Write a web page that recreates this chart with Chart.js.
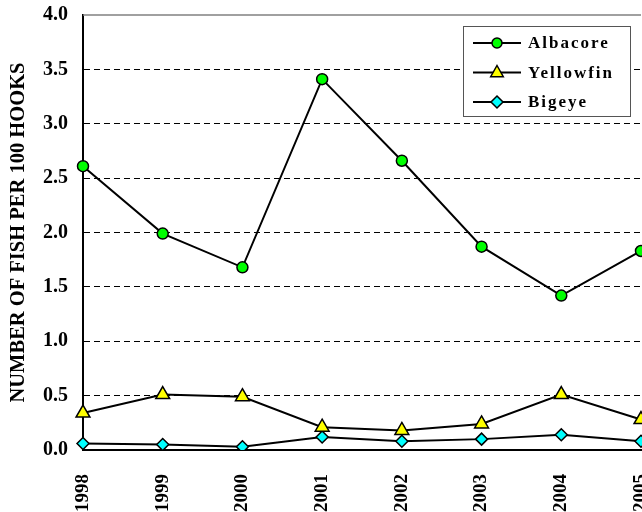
<!DOCTYPE html>
<html>
<head>
<meta charset="utf-8">
<script src="https://cdn.jsdelivr.net/npm/chart.js@4"></script>
<style>
  html, body { margin: 0; padding: 0; background: #fff; overflow: hidden; }
  #wrap { width: 700px; height: 512px; }
</style>
</head>
<body>
<div id="wrap"><canvas id="mycanvas" width="700" height="512"></canvas></div>
<script>
var years = ["1998", "1999", "2000", "2001", "2002", "2003", "2004", "2005"];
var albacore = [2.61, 1.99, 1.68, 3.41, 2.66, 1.87, 1.42, 1.83];
var yellowfin = [0.34, 0.51, 0.49, 0.21, 0.18, 0.24, 0.51, 0.28];
var bigeye = [0.06, 0.05, 0.03, 0.12, 0.08, 0.10, 0.14, 0.08];
var yTitle = "NUMBER OF FISH PER 100 HOOKS";

var serif = "'Liberation Serif', 'Times New Roman', serif";

function drawShape(c, style, r, x, y) {
	if (style === "circle") {
		c.arc(x, y, r, 0, Math.PI * 2);
	} else if (style === "triangle") {
		c.moveTo(x, y - r);
		c.lineTo(x + r * 0.9, y + r * 0.6);
		c.lineTo(x - r * 0.9, y + r * 0.6);
		c.closePath();
	} else {
		c.moveTo(x, y - r);
		c.lineTo(x + r, y);
		c.lineTo(x, y + r);
		c.lineTo(x - r, y);
		c.closePath();
	}
}

// legend box with line + marker, like the original
var boxLegend = {
	id: "boxLegend",
	afterDraw: function(chart) {
		var c = chart.ctx;
		var x0 = 463, y0 = 26, w = 167, h = 90;
		c.save();
		c.fillStyle = "#fff";
		c.fillRect(x0, y0, w, h);
		c.strokeStyle = "#555";
		c.lineWidth = 1;
		c.strokeRect(x0 + 0.5, y0 + 0.5, w, h);
		chart.data.datasets.forEach(function(ds, i) {
			var y = y0 + 17 + i * 29.5;
			c.strokeStyle = "#000";
			c.lineWidth = 2;
			c.beginPath();
			c.moveTo(x0 + 10, y);
			c.lineTo(x0 + 58, y);
			c.stroke();
			c.fillStyle = ds.pointBackgroundColor;
			c.lineWidth = 1.5;
			c.beginPath();
			drawShape(c, ds.pointStyle, ds.legendRadius, x0 + 34, y);
			c.fill();
			c.stroke();
			c.fillStyle = "#000";
			c.font = "bold 17px " + serif;
			if ("letterSpacing" in c) c.letterSpacing = "2px";
			c.textBaseline = "middle";
			c.textAlign = "left";
			c.fillText(ds.label, x0 + 65, y + 1);
			if ("letterSpacing" in c) c.letterSpacing = "0px";
		});
		// top frame line
		var a = chart.chartArea;
		c.strokeStyle = "#808080";
		c.lineWidth = 1.5;
		c.beginPath();
		c.moveTo(a.left, a.top);
		c.lineTo(a.right, a.top);
		c.stroke();
		c.restore();
	}
};

var ctx = document.getElementById("mycanvas");

var chartdata = {
	labels: years,
	datasets: [
		{
			label: "Albacore",
			data: albacore,
			borderColor: "#000",
			borderWidth: 2,
			pointStyle: "circle",
			pointRadius: 5.5,
			legendRadius: 5,
			pointBackgroundColor: "#00FF00",
			pointBorderColor: "#000",
			pointBorderWidth: 1.5
		},
		{
			label: "Yellowfin",
			data: yellowfin,
			borderColor: "#000",
			borderWidth: 2,
			pointStyle: "triangle",
			pointRadius: 8,
			legendRadius: 7,
			pointBackgroundColor: "#FFFF00",
			pointBorderColor: "#000",
			pointBorderWidth: 1.5
		},
		{
			label: "Bigeye",
			data: bigeye,
			borderColor: "#000",
			borderWidth: 2,
			pointStyle: "rectRot",
			pointRadius: 6,
			legendRadius: 6,
			pointBackgroundColor: "#00FFFF",
			pointBorderColor: "#000",
			pointBorderWidth: 1.5
		}
	]
};

var new_chart = new Chart(ctx, {
	type: "line",
	data: chartdata,
	options: {
		responsive: false,
		animation: false,
		layout: { padding: { top: 0, right: 59, left: 0, bottom: 0 } },
		plugins: {
			legend: { display: false },
			tooltip: { enabled: false }
		},
		scales: {
			x: {
				offset: false,
				grid: { display: false },
				border: { display: true, color: "#000", width: 2 },
				ticks: {
					color: "#000",
					font: { family: serif, size: 19, weight: "bold" },
					minRotation: 90,
					maxRotation: 90,
					padding: 16
				},
				afterFit: function(scale) { scale.height = 62; }
			},
			y: {
				min: 0,
				max: 4,
				grid: {
					drawTicks: true,
					tickLength: 12,
					tickColor: "rgba(0,0,0,0)",
					color: function(c) {
						return (c.tick.value === 0 || c.tick.value === 4) ? "rgba(0,0,0,0)" : "#000";
					},
					lineWidth: 1
				},
				border: { display: true, color: "#000", width: 2, dash: [6, 4] },
				ticks: {
					stepSize: 0.5,
					color: "#000",
					padding: 3,
					font: { family: serif, size: 20, weight: "bold" },
					callback: function(v) { return v.toFixed(1); }
				},
				title: {
					display: true,
					text: yTitle,
					color: "#000",
					font: { family: serif, size: 20.5, weight: "bold" },
					padding: { top: 6.5, bottom: 0 }
				},
				afterFit: function(scale) { scale.width = 83; }
			}
		}
	},
	plugins: [boxLegend]
});
</script>
</body>
</html>
